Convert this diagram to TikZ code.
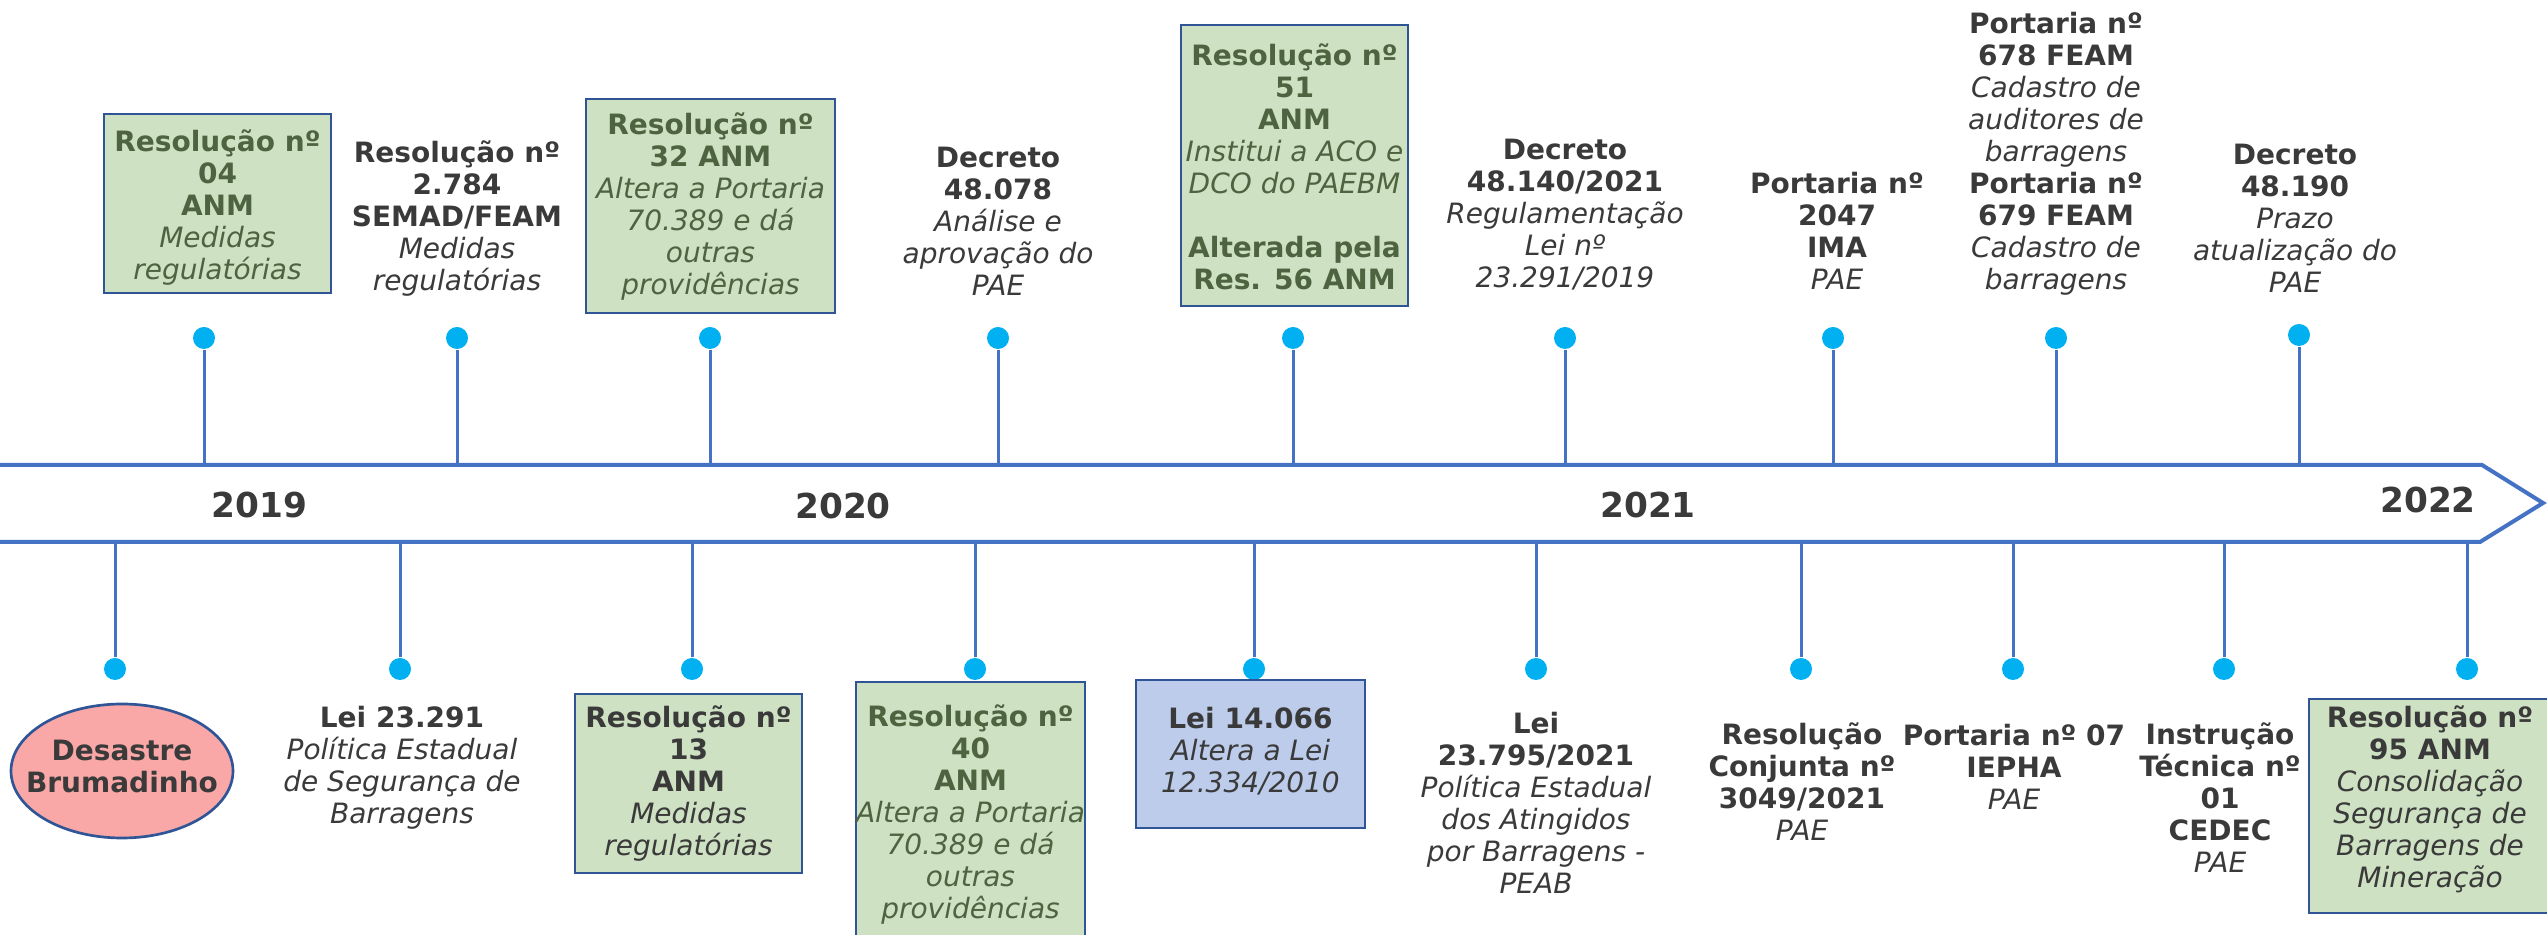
\documentclass[tikz,border=0pt]{standalone}
\usepackage{fontspec}
\setmainfont{DejaVu Sans}
\usetikzlibrary{shapes.geometric}
\definecolor{bandblue}{HTML}{4472C4}
\definecolor{dotcyan}{HTML}{00B0F0}
\definecolor{boxblue}{HTML}{2F5597}
\definecolor{greenfill}{HTML}{CEE1C3}
\definecolor{bluefill}{HTML}{BCCCEA}
\definecolor{pinkfill}{HTML}{F9A7A7}
\definecolor{greentext}{HTML}{4E6340}
\definecolor{graytext}{HTML}{3A3A3A}
\newcommand\mkB[1]{\textbf{#1}}
\newcommand\mkI[1]{\textit{#1}}
\newcommand\nro{nº}
\tikzset{
  band/.style={draw=bandblue, line width=1.2pt, fill=white},
  stem/.style={draw=bandblue, line width=0.9pt},
  dot/.style={circle, fill=dotcyan, minimum size=6.6pt, inner sep=0pt},
  gbox/.style={draw=boxblue, line width=0.8pt, fill=greenfill, inner sep=0pt},
  bbox/.style={draw=boxblue, line width=0.8pt, fill=bluefill, inner sep=0pt},
  ebox/.style={ellipse, draw=boxblue, line width=0.8pt, fill=pinkfill, inner sep=0pt},
  txt/.style={align=center, inner sep=0pt, text=graytext, font=\fontsize{8.4}{9.6}\selectfont},
  gtxt/.style={txt, text=greentext},
  yr/.style={font=\fontsize{10.3}{12}\selectfont\bfseries, text=graytext, inner sep=0pt},
}
\begin{document}
\begin{tikzpicture}[x=0.3pt,y=-0.3pt]
\useasboundingbox (0,0) rectangle (2547,935);
\clip (0,0) rectangle (2547,935);

% timeline band
\coordinate (bt) at (0,465);
\coordinate (bb) at (0,542);
\draw[band] (0,465) -- (2482,465) -- (2543,503) -- (2480,542) -- (0,542);
\node[yr] (y19) at (259.5,505) {2019};
\node[yr] (y20) at (843,506) {2020};
\node[yr] (y21) at (1648,505) {2021};
\node[yr] (y22) at (2428,500) {2022};

% top dots
\node[dot] (d04) at (204,338) {};
\node[dot] (d2784) at (457,338) {};
\node[dot] (d32) at (710,338) {};
\node[dot] (d48078) at (998,338) {};
\node[dot] (d51) at (1293,338) {};
\node[dot] (d48140) at (1565,338) {};
\node[dot] (d2047) at (1833,338) {};
\node[dot] (d678) at (2056,338) {};
\node[dot] (d48190) at (2299,335) {};
\foreach \d in {d04,d2784,d32,d48078,d51,d48140,d2047,d678,d48190}
  \draw[stem] (\d.south) -- (\d.south |- bt);

% bottom dots
\node[dot] (dDes) at (115,669) {};
\node[dot] (d23291) at (400,669) {};
\node[dot] (d13) at (692,669) {};
\node[dot] (d40) at (975,669) {};
\node[dot] (d14066) at (1254,669) {};
\node[dot] (d23795) at (1536,669) {};
\node[dot] (d3049) at (1801,669) {};
\node[dot] (d07) at (2013,669) {};
\node[dot] (dInst) at (2224,669) {};
\node[dot] (d95) at (2467,669) {};
\foreach \d in {dDes,d23291,d13,d40,d14066,d23795,d3049,d07,dInst,d95}
  \draw[stem] (\d.north) -- (\d.north |- bb);

% ---------- top items ----------
\node[gbox, minimum width=68.1pt, minimum height=53.7pt] (b04) at (217.5,203.5) {};
\node[gtxt] (t04) at (217.5,207.5) {\mkB{Resolução \nro}\\\mkB{04}\\\mkB{ANM}\\\mkI{Medidas}\\\mkI{regulatórias}};

\node[txt] (t2784) at (457,219) {\mkB{Resolução \nro}\\\mkB{2.784}\\\mkB{SEMAD/FEAM}\\\mkI{Medidas}\\\mkI{regulatórias}};

\node[gbox, minimum width=74.7pt, minimum height=64.2pt] (b32) at (710.5,206) {};
\node[gtxt] (t32) at (710.5,207) {\mkB{Resolução \nro}\\\mkB{32 ANM}\\\mkI{Altera a Portaria}\\\mkI{70.389 e dá}\\\mkI{outras}\\\mkI{providências}};

\node[txt] (t48078) at (998,221) {\mkB{Decreto}\\\mkB{48.078}\\\mkI{Análise e}\\\mkI{aprovação do}\\\mkI{PAE}};

\node[gbox, minimum width=68.1pt, minimum height=84.3pt] (b51) at (1294.5,165.5) {};
\node[gtxt] (t51) at (1294.5,166.5) {\mkB{Resolução \nro}\\\mkB{51}\\\mkB{ANM}\\\mkI{Institui a ACO e}\\\mkI{DCO do PAEBM}\\\mbox{}\\\mkB{Alterada pela}\\\mkB{Res. 56 ANM}};

\node[txt] (t48140) at (1565,215) {\mkB{Decreto}\\\mkB{48.140/2021}\\\mkI{Regulamentação}\\\mkI{Lei \nro}\\\mkI{23.291/2019}};

\node[txt] (t2047) at (1837,230.5) {\mkB{Portaria \nro}\\\mkB{2047}\\\mkB{IMA}\\\mkI{PAE}};

\node[txt] (t678) at (2056,153.5) {\mkB{Portaria \nro}\\\mkB{678 FEAM}\\\mkI{Cadastro de}\\\mkI{auditores de}\\\mkI{barragens}\\\mkB{Portaria \nro}\\\mkB{679 FEAM}\\\mkI{Cadastro de}\\\mkI{barragens}};

\node[txt] (t48190) at (2295,218) {\mkB{Decreto}\\\mkB{48.190}\\\mkI{Prazo}\\\mkI{atualização do}\\\mkI{PAE}};

% ---------- bottom items ----------
\node[ebox, minimum width=66.6pt, minimum height=40.2pt] (bDes) at (122,771) {};
\node[txt] (tDes) at (122,766) {\mkB{Desastre}\\\mkB{Brumadinho}};

\node[txt] (t23291) at (402,768) {\mkB{Lei 23.291}\\\mkI{Política Estadual}\\\mkI{de Segurança de}\\\mkI{Barragens}};

\node[gbox, minimum width=68.1pt, minimum height=53.7pt] (b13) at (688.5,783.5) {};
\node[txt] (t13) at (688.5,783.5) {\mkB{Resolução \nro}\\\mkB{13}\\\mkB{ANM}\\\mkI{Medidas}\\\mkI{regulatórias}};

\node[gbox, minimum width=68.7pt, minimum height=79.2pt] (b40) at (970.5,814) {};
\node[gtxt] (t40) at (970.5,815) {\mkB{Resolução \nro}\\\mkB{40}\\\mkB{ANM}\\\mkI{Altera a Portaria}\\\mkI{70.389 e dá}\\\mkI{outras}\\\mkI{providências}};

\node[bbox, minimum width=68.7pt, minimum height=44.4pt] (b14066) at (1250.5,754) {};
\node[txt] (t14066) at (1250.5,751) {\mkB{Lei 14.066}\\\mkI{Altera a Lei}\\\mkI{12.334/2010}};

\node[txt] (t23795) at (1536,803) {\mkB{Lei}\\\mkB{23.795/2021}\\\mkI{Política Estadual}\\\mkI{dos Atingidos}\\\mkI{por Barragens -}\\\mkI{PEAB}};

\node[txt] (t3049) at (1802,782) {\mkB{Resolução}\\\mkB{Conjunta \nro}\\\mkB{3049/2021}\\\mkI{PAE}};

\node[txt] (t07) at (2014,767) {\mkB{Portaria \nro{} 07}\\\mkB{IEPHA}\\\mkI{PAE}};

\node[txt] (tInst) at (2220,798) {\mkB{Instrução}\\\mkB{Técnica \nro}\\\mkB{01}\\\mkB{CEDEC}\\\mkI{PAE}};

\node[gbox, minimum width=72.6pt, minimum height=64.2pt] (b95) at (2430,806) {};
\node[txt] (t95) at (2430,799) {\mkB{Resolução \nro}\\\mkB{95 ANM}\\\mkI{Consolidação}\\\mkI{Segurança de}\\\mkI{Barragens de}\\\mkI{Mineração}};
\end{tikzpicture}
\end{document}
